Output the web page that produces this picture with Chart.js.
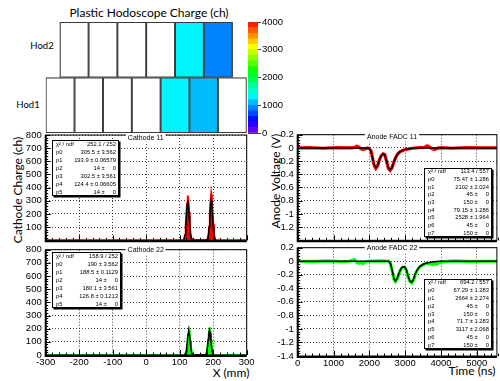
<!DOCTYPE html>
<html>
<head>
<meta charset="utf-8">
<script src="https://cdn.jsdelivr.net/npm/chart.js@4.4.1/dist/chart.umd.min.js"></script>
<style>
  body { margin: 0; background: #fff; width: 500px; height: 381px; overflow: hidden; position: relative; font-family: Lato, sans-serif; }
  canvas { position: absolute; }
  .lbl { position: absolute; white-space: nowrap; transform: translate(-50%, -50%); color: #000; line-height: 1; }
  .rot { transform: translate(-50%, -50%) rotate(-90deg); }
</style>
</head>
<body>
<div class="lbl" style="left:149px;top:13px;font-size:12px">Plastic Hodoscope Charge (ch)</div>
<div class="lbl" style="left:42px;top:46px;font-size:9.5px">Hod2</div>
<div class="lbl" style="left:28px;top:105px;font-size:9.5px">Hod1</div>
<div class="lbl rot" style="left:18px;top:190px;font-size:12px">Cathode Charge (ch)</div>
<div class="lbl rot" style="left:276px;top:181px;font-size:12px">Anode Voltage (V)</div>
<div class="lbl" style="left:231px;top:373px;font-size:12px">X (mm)</div>
<div class="lbl" style="left:472px;top:371px;font-size:12px">Time (ns)</div>

<canvas id="hodo" width="262" height="140" style="left:0;top:0"></canvas>
<canvas id="cbar" width="60" height="145" style="left:240px;top:0"></canvas>
<canvas id="cath11" width="262" height="125" style="left:0;top:125px"></canvas>
<canvas id="cath22" width="262" height="141" style="left:0;top:240px"></canvas>
<canvas id="anode11" width="245" height="125" style="left:255px;top:125px"></canvas>
<canvas id="anode22" width="245" height="143" style="left:255px;top:238px"></canvas>

<script>
// hodoscope cells (mm) and charges
const hodRows = ['Hod2', 'Hod1']
const hod2Edges = [-258, -172, -86, 0, 86, 172, 258]
const hod1Edges = [-300, -214, -129, -43, 43, 129, 214, 300]
const hod2Charge = [0, 0, 0, 0, 1310, 920]
const hod1Charge = [0, 0, 0, 0, 1290, 1080, 0]
const paletteLevels = [0, 200, 400, 600, 800, 1000, 1200, 1400, 1600, 1800, 2000, 2200, 2400, 2600, 2800, 3000, 3200, 3400, 3600, 3800, 4000]
const paletteTicks = [0, 500, 1000, 1500, 2000, 2500, 3000, 3500, 4000]

// axis ticks
const cathodeXTicks = [-300, -200, -100, 0, 100, 200, 300]
const cathodeYTicks = [0, 100, 200, 300, 400, 500, 600, 700, 800]
const anodeXTicks = [0, 1000, 2000, 3000, 4000, 5000]
const anodeYTicks = [-1.4, -1.2, -1, -0.8, -0.6, -0.4, -0.2, 0, 0.2]

// cathode histograms and fits
const cath11HistX = [-300, 110, 113, 116, 118, 120, 122, 124, 126, 128, 130, 132, 135, 138, 180, 183, 186, 188, 190, 192, 194, 196, 198, 200, 202, 205, 208, 300]
const cath11HistY = [0, 0, 8, 40, 110, 190, 280, 340, 300, 215, 130, 60, 15, 0, 0, 8, 40, 105, 190, 285, 350, 310, 215, 125, 55, 12, 0, 0]
const cath11FitX = [110, 112, 114, 116, 118, 120, 122, 124, 126, 128, 130, 132, 134, 136, 138, 180, 182, 184, 186, 188, 190, 192, 194, 196, 198, 200, 202, 204, 206, 208]
const cath11FitY = [1, 3, 13, 41, 98, 184, 267, 302, 267, 184, 98, 41, 13, 3, 1, 1, 3, 13, 41, 99, 185, 270, 305, 270, 185, 99, 41, 13, 3, 1]

const cath22HistX = [-300, 112, 116, 119, 122, 124, 126, 128, 130, 132, 134, 137, 140, 174, 178, 181, 184, 186, 188, 190, 192, 194, 196, 199, 202, 300]
const cath22HistY = [0, 0, 6, 30, 80, 130, 175, 195, 165, 110, 55, 15, 0, 0, 6, 30, 85, 140, 185, 210, 175, 115, 55, 15, 0, 0]
const cath22FitX = [113, 115, 117, 119, 121, 123, 125, 127, 129, 131, 133, 135, 137, 139, 141, 175, 177, 179, 181, 183, 185, 187, 189, 191, 193, 195, 197, 199, 201, 203]
const cath22FitY = [0, 2, 8, 24, 59, 109, 159, 180, 159, 109, 59, 24, 8, 2, 0, 0, 2, 8, 26, 62, 115, 168, 190, 168, 115, 62, 26, 8, 2, 0]

// anode waveforms (ns, V)
const anode11DataT = [0, 300, 700, 1100, 1500, 1600, 1650, 1700, 1760, 1820, 1880, 1950, 2000, 2050, 2080, 2130, 2180, 2230, 2280, 2330, 2380, 2430, 2480, 2530, 2580, 2630, 2680, 2730, 2780, 2850, 2950, 3050, 3200, 3400, 3550, 3600, 3650, 3700, 3760, 3820, 3880, 3940, 4000, 4300, 4700, 5100, 5560]
const anode11DataV = [0, 0.005, -0.005, 0.005, 0, 0.01, 0.025, 0.015, -0.01, -0.025, -0.015, 0, -0.01, -0.05, -0.13, -0.26, -0.31, -0.27, -0.18, -0.12, -0.09, -0.1, -0.2, -0.31, -0.34, -0.3, -0.22, -0.15, -0.1, -0.06, -0.035, -0.02, -0.005, 0.005, 0.01, 0.03, 0.025, 0.005, -0.015, -0.025, -0.01, 0, 0.005, -0.005, 0.005, 0, 0]
const anode11FitT = [0, 1980, 2030, 2080, 2130, 2180, 2230, 2280, 2330, 2380, 2430, 2480, 2530, 2580, 2630, 2680, 2730, 2780, 2850, 2950, 3050, 3200, 3400, 5560]
const anode11FitV = [0, 0, -0.03, -0.13, -0.25, -0.30, -0.27, -0.19, -0.12, -0.09, -0.11, -0.2, -0.30, -0.33, -0.30, -0.22, -0.15, -0.1, -0.06, -0.03, -0.015, -0.005, 0, 0]

const anode22DataT = [0, 400, 800, 1200, 1450, 1520, 1580, 1640, 1700, 1760, 1820, 1880, 2000, 2300, 2540, 2590, 2640, 2690, 2730, 2780, 2830, 2880, 2930, 2980, 3030, 3080, 3130, 3180, 3230, 3280, 3330, 3400, 3500, 3600, 3700, 3760, 3820, 3880, 3950, 4050, 4400, 4800, 5200, 5560]
const anode22DataV = [0, -0.005, 0.005, -0.005, 0, 0.015, 0.025, -0.01, -0.03, -0.015, -0.035, -0.01, 0, 0.005, 0, -0.04, -0.15, -0.27, -0.30, -0.26, -0.18, -0.12, -0.09, -0.09, -0.13, -0.23, -0.30, -0.32, -0.28, -0.2, -0.14, -0.09, -0.05, -0.03, -0.035, -0.05, -0.03, -0.045, -0.02, -0.005, 0.005, -0.005, 0, 0]
const anode22FitT = [0, 2540, 2590, 2640, 2690, 2730, 2780, 2830, 2880, 2930, 2980, 3030, 3080, 3130, 3180, 3230, 3280, 3330, 3400, 3500, 3600, 3750, 3950, 5560]
const anode22FitV = [0, 0, -0.03, -0.14, -0.26, -0.29, -0.25, -0.17, -0.11, -0.08, -0.08, -0.12, -0.22, -0.29, -0.31, -0.27, -0.19, -0.13, -0.08, -0.045, -0.025, -0.01, 0, 0]

// fit results
const cath11Stats = [['χ² / ndf', '252.1 / 252'], ['p0', '305.5 ± 3.562'], ['p1', '193.9 ± 0.06579'], ['p2', '14 ±     0'], ['p3', '302.5 ± 3.561'], ['p4', '124.4 ± 0.06605'], ['p5', '14 ±     0']]
const cath22Stats = [['χ² / ndf', '158.9 / 252'], ['p0', '190 ± 3.562'], ['p1', '188.5 ± 0.1129'], ['p2', '14 ±     0'], ['p3', '180.1 ± 3.561'], ['p4', '126.8 ± 0.1213'], ['p5', '14 ±     0']]
const anode11Stats = [['χ² / ndf', '113.4 / 557'], ['p0', '75.47 ± 1.286'], ['p1', '2102 ± 2.024'], ['p2', '45 ±     0'], ['p3', '150 ±     0'], ['p4', '79.15 ± 1.286'], ['p5', '2528 ± 1.964'], ['p6', '45 ±     0'], ['p7', '150 ±     0']]
const anode22Stats = [['χ² / ndf', '694.2 / 557'], ['p0', '67.29 ± 1.283'], ['p1', '2664 ± 2.274'], ['p2', '45 ±     0'], ['p3', '150 ±     0'], ['p4', '71.7 ± 1.283'], ['p5', '3117 ± 2.068'], ['p6', '45 ±     0'], ['p7', '150 ±     0']]

const tickFont = '"Liberation Sans Narrow", "Liberation Sans", sans-serif'
Chart.defaults.font.family = tickFont
Chart.defaults.font.size = 9.5
Chart.defaults.color = '#000'

function paletteColor(v) {
  if (!v) return '#fff'
  const band = Math.min(19, Math.floor(v / 200))
  return `hsl(${270 * (1 - (band + 0.5) / 20)}, 100%, 50%)`
}

const xy = (xs, ys) => xs.map((x, i) => ({ x: x, y: ys[i] }))
const fixedTicks = values => s => { s.ticks = values.map(v => ({ value: v })) }

// ROOT-like frame with inside ticks
const rootFrame = {
  id: 'rootFrame',
  afterDatasetsDraw(chart, args, o) {
    if (!o.show) return
    const ctx = chart.ctx, a = chart.chartArea
    ctx.save()
    ctx.strokeStyle = '#000'
    ctx.lineWidth = 1
    ;['x', 'y'].forEach(id => {
      const s = chart.scales[id]
      const step = o[id + 'Minor'], major = o[id + 'Major']
      const n = Math.round((s.max - s.min) / step)
      for (let i = 0; i <= n; i++) {
        const v = s.min + i * step
        const isMajor = Math.abs(v / major - Math.round(v / major)) < 1e-6
        const len = isMajor ? 5 : 2.5
        const p = Math.round(s.getPixelForValue(v)) + 0.5
        ctx.beginPath()
        if (id === 'x') { ctx.moveTo(p, a.bottom); ctx.lineTo(p, a.bottom - len) }
        else { ctx.moveTo(a.left, p); ctx.lineTo(a.left + len, p) }
        ctx.stroke()
      }
    })
    ctx.strokeRect(a.left, a.top, a.right - a.left, a.bottom - a.top)
    ctx.lineWidth = 2
    ctx.beginPath()
    ctx.moveTo(a.left, a.top)
    ctx.lineTo(a.left, a.bottom + 1)
    ctx.lineTo(a.right, a.bottom + 1)
    ctx.stroke()
    ctx.restore()
  }
}

const statsBox = {
  id: 'statsBox',
  afterDraw(chart, args, o) {
    if (!o.rows) return
    const ctx = chart.ctx
    ctx.save()
    ctx.font = '7px "Liberation Sans", sans-serif'
    ctx.textBaseline = 'middle'
    const tw = ctx.measureText(o.title).width
    ctx.fillStyle = '#fff'
    ctx.fillRect(o.titleX - tw / 2 - 2, o.titleY - 4, tw + 4, 8)
    ctx.fillStyle = '#000'
    ctx.textAlign = 'center'
    ctx.fillText(o.title, o.titleX, o.titleY)

    ctx.fillStyle = '#000'
    ctx.fillRect(o.x + 1.5, o.y + 1.5, o.w, o.h)
    ctx.fillStyle = '#fff'
    ctx.fillRect(o.x, o.y, o.w, o.h)
    ctx.strokeStyle = '#000'
    ctx.lineWidth = 1
    ctx.strokeRect(o.x + 0.5, o.y + 0.5, o.w - 1, o.h - 1)
    ctx.font = '5.8px "Liberation Sans", sans-serif'
    ctx.fillStyle = '#000'
    o.rows.forEach((r, i) => {
      const cy = o.y + o.h * (i + 0.5) / o.rows.length
      ctx.textAlign = 'left'
      ctx.fillText(r[0], o.x + 4, cy)
      ctx.textAlign = 'right'
      ctx.fillText(r[1], o.x + o.w - 3, cy)
    })
    ctx.restore()
  }
}

Chart.register(rootFrame, statsBox)

const Hodo = {
  create() {
    new Chart(document.getElementById('hodo'), {
      type: 'bar',
      data: {
        labels: hodRows,
        datasets: hod1Charge.map((_, i) => ({
          data: [
            i < hod2Charge.length ? [hod2Edges[i], hod2Edges[i + 1]] : null,
            [hod1Edges[i], hod1Edges[i + 1]]
          ],
          backgroundColor: [paletteColor(hod2Charge[i]), paletteColor(hod1Charge[i])],
          borderColor: '#3a3a3a',
          borderWidth: 1.3,
          borderSkipped: false,
          barPercentage: 1,
          categoryPercentage: 1,
          grouped: false
        }))
      },
      options: {
        indexAxis: 'y',
        responsive: false,
        animation: false,
        layout: { padding: { left: 45.7, right: 15.3, top: 22, bottom: 7 } },
        scales: {
          x: { type: 'linear', min: -300, max: 300, display: false },
          y: { display: false }
        },
        plugins: { legend: { display: false }, tooltip: { enabled: false } }
      }
    })
  },
  colorBar() {
    new Chart(document.getElementById('cbar'), {
      type: 'bar',
      data: {
        labels: ['z'],
        datasets: paletteLevels.slice(0, -1).map((lo, i) => ({
          data: [[lo, paletteLevels[i + 1]]],
          backgroundColor: paletteColor(lo + 100),
          borderWidth: 0,
          barPercentage: 1,
          categoryPercentage: 1,
          grouped: false
        }))
      },
      options: {
        responsive: false,
        animation: false,
        layout: { padding: { left: 8, right: 0, top: 22, bottom: 12 } },
        scales: {
          x: { display: false },
          y: {
            position: 'right', min: 0, max: 4000, z: 1,
            afterBuildTicks: fixedTicks(paletteTicks),
            ticks: { padding: 1, font: { size: 9.5 }, callback: v => String(v) },
            grid: { color: 'rgba(0,0,0,0.75)', tickLength: 3, drawOnChartArea: true },
            border: { display: false },
            afterFit: s => { s.width = 42 }
          }
        },
        plugins: { legend: { display: false }, tooltip: { enabled: false } }
      }
    })
  }
}

const Panel = {
  create(id, cfg) {
    const hideMin = cfg.hideMin
    return new Chart(document.getElementById(id), {
      type: 'line',
      data: { datasets: cfg.datasets },
      options: {
        responsive: false,
        animation: false,
        layout: { padding: cfg.padding },
        elements: { point: { radius: 0 }, line: { tension: 0 } },
        scales: {
          x: {
            type: 'linear', min: cfg.xTicks[0], max: cfg.xMax,
            afterBuildTicks: fixedTicks(cfg.xTicks),
            ticks: { display: cfg.xLabels, padding: 2, maxRotation: 0, autoSkip: false,
              callback: v => String(Math.round(v)) },
            grid: { color: '#444', drawTicks: false },
            border: { display: false, dash: [1, 2] },
            afterFit: s => { s.height = cfg.xHeight }
          },
          y: {
            min: cfg.yTicks[0], max: cfg.yTicks[cfg.yTicks.length - 1],
            afterBuildTicks: fixedTicks(cfg.yTicks),
            ticks: { padding: 4, autoSkip: false,
              callback: v => (hideMin && v === cfg.yTicks[0]) ? '' : String(Number(v.toFixed(1))) },
            grid: { color: '#444', drawTicks: false },
            border: { display: false, dash: [1, 2] },
            afterFit: s => { s.width = cfg.yWidth }
          }
        },
        plugins: {
          legend: { display: false },
          tooltip: { enabled: false },
          rootFrame: { show: true, xMajor: cfg.xStep, xMinor: cfg.xStep / 5, yMajor: cfg.yStep, yMinor: cfg.yStep / 5 },
          statsBox: cfg.stats
        }
      }
    })
  }
}

function histSets(hx, hy, fx, fy, color) {
  return [
    { data: xy(fx, fy), borderColor: '#000', borderWidth: 1.5, fill: false },
    { data: xy(hx, hy), borderColor: color, backgroundColor: color, borderWidth: 2, fill: 'origin' }
  ]
}

function waveSets(dt, dv, ft, fv, color) {
  return [
    { data: xy(ft, fv), borderColor: '#000', borderWidth: 1.5, fill: false },
    { data: xy(dt, dv), borderColor: color, borderWidth: 3.2, fill: false }
  ]
}

const App = {
  init() {
    Hodo.create()
    Hodo.colorBar()

    const cath = { xTicks: cathodeXTicks, xMax: 300, xStep: 100, yTicks: cathodeYTicks, yStep: 100, yWidth: 45.7 }
    Panel.create('cath11', Object.assign({}, cath, {
      padding: { top: 10, right: 15.3, bottom: 5, left: 0 }, xLabels: false, xHeight: 0, hideMin: true,
      datasets: histSets(cath11HistX, cath11HistY, cath11FitX, cath11FitY, '#ff0000'),
      stats: { title: 'Cathode 11', titleX: 145.7, titleY: 12.7, x: 52, y: 15, w: 67, h: 56, rows: cath11Stats }
    }))
    Panel.create('cath22', Object.assign({}, cath, {
      padding: { top: 5, right: 15.3, bottom: 0, left: 0 }, xLabels: true, xHeight: 26, hideMin: false,
      datasets: histSets(cath22HistX, cath22HistY, cath22FitX, cath22FitY, '#00ff00'),
      stats: { title: 'Cathode 22', titleX: 145.7, titleY: 10, x: 52, y: 12, w: 69, h: 56, rows: cath22Stats }
    }))

    const anode = { xTicks: anodeXTicks, xMax: 5560, xStep: 1000, yTicks: anodeYTicks, yStep: 0.2, yWidth: 42.7 }
    Panel.create('anode11', Object.assign({}, anode, {
      padding: { top: 9, right: 3.1, bottom: 5.7, left: 0 }, xLabels: false, xHeight: 0, hideMin: true,
      datasets: waveSets(anode11DataT, anode11DataV, anode11FitT, anode11FitV, '#ff0000'),
      stats: { title: 'Anode FADC 11', titleX: 137, titleY: 12.3, x: 169, y: 43, w: 68, h: 69, rows: anode11Stats }
    }))
    Panel.create('anode22', Object.assign({}, anode, {
      padding: { top: 6, right: 3.1, bottom: 0, left: 0 }, xLabels: true, xHeight: 25, hideMin: false,
      datasets: waveSets(anode22DataT, anode22DataV, anode22FitT, anode22FitV, '#00ff00'),
      stats: { title: 'Anode FADC 22', titleX: 137, titleY: 10, x: 169, y: 41, w: 68, h: 70, rows: anode22Stats }
    }))
  }
}

App.init()
</script>
</body>
</html>
